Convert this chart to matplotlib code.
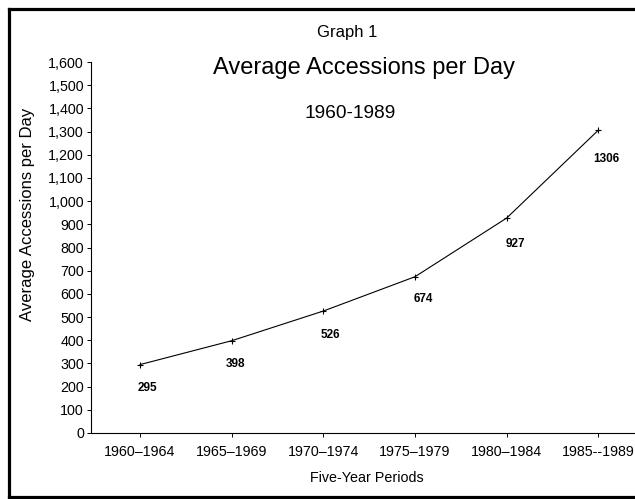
import matplotlib
matplotlib.use("Agg")
import matplotlib.pyplot as plt
from matplotlib.lines import Line2D

plt.rcParams["font.family"] = ["Liberation Sans", "DejaVu Sans"]

periods = ["1960\u20131964", "1965\u20131969", "1970\u20131974",
           "1975\u20131979", "1980\u20131984", "1985--1989"]
accessions = [295, 398, 526, 674, 927, 1306]
# where each value label sits relative to its point (points)
label_dx = [5, 3, 5, 6, 6, 6]
label_dy = [-17, -16.5, -17, -16, -19, -21]

W, H = 635, 499
fig = plt.figure(figsize=(W / 100, H / 100), dpi=100)
ax = fig.add_axes([91 / W, 1 - 433 / H, 1 - 91 / W, (433 - 62) / H])

x = range(len(periods))
ax.plot(x, accessions, color="black", lw=0.8, marker="+", ms=5, mew=0.8)
for i, v in enumerate(accessions):
    ax.annotate(str(v), (i, v), xytext=(label_dx[i], label_dy[i]),
                textcoords="offset points", ha="center", va="center",
                fontsize=8.5, fontweight="bold")

ax.set_xlim(-0.535, 5.40)
ax.set_ylim(0, 1600)
ax.set_yticks(range(0, 1601, 100))
ax.set_yticklabels([f"{v:,}" for v in range(0, 1601, 100)])
ax.set_xticks(list(x))
ax.set_xticklabels(periods)
ax.tick_params(labelsize=10.3, length=3, width=0.7, pad=2)
ax.tick_params(axis="x", pad=6)
for s in ["top", "right"]:
    ax.spines[s].set_visible(False)
for s in ["left", "bottom"]:
    ax.spines[s].set_linewidth(0.8)

ax.set_ylabel("Average Accessions per Day", fontsize=12)
ax.yaxis.set_label_coords(-(91 - 27) / (W - 91), (433 - 214) / (433 - 62))
ax.set_xlabel("Five-Year Periods", fontsize=10.3)
ax.xaxis.set_label_coords((367 - 91) / (W - 91), -(478 - 433) / (433 - 62))
ax.xaxis.label.set_va("center")
ax.yaxis.label.set_va("center")

fig.text(347 / W, 1 - 32 / H, "Graph 1", ha="center", va="center", fontsize=12)
fig.text(364 / W, 1 - 68 / H, "Average Accessions per Day", ha="center",
         va="center", fontsize=17)
fig.text(350 / W, 1 - 114 / H, "1960-1989", ha="center", va="center", fontsize=13.8)

# page frame
for xs, ys in [([9, W], [9, 9]), ([9, 9], [9, 497]), ([9, W], [497, 497])]:
    fig.add_artist(Line2D([a / W for a in xs], [1 - b / H for b in ys],
                          color="black", lw=2.3, transform=fig.transFigure))

fig.savefig("out.png", dpi=100)
